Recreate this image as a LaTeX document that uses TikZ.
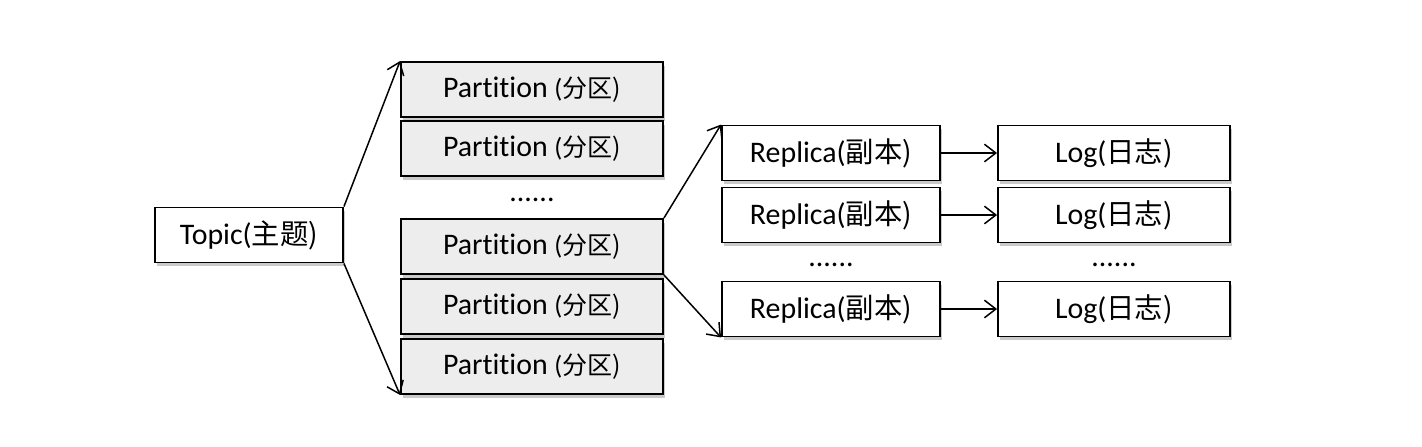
\documentclass[tikz,border=0pt]{standalone}
\usepackage{fontspec}
\setmainfont[Ligatures={NoCommon}]{Carlito}
\newfontfamily\cjk[Scale=0.95]{Noto Sans CJK SC}
\usetikzlibrary{arrows.meta,shadows}

\begin{document}
\begin{tikzpicture}[x=0.02cm,y=-0.02cm,
  box/.style={draw,line width=1.1pt,inner sep=0pt,minimum height=1.1cm,
    font=\fontsize{17}{20}\selectfont,
    drop shadow={shadow xshift=1.2pt,shadow yshift=-2pt,opacity=0.35,fill=black!60}},
  part/.style={box,fill=black!7,minimum width=5.24cm},
  link/.style={line width=0.85pt,-{Straight Barb[length=6.5pt,width=10pt]}},
  dots/.style={font=\fontsize{17}{20}\selectfont,inner sep=0pt}]
\useasboundingbox (0,0) rectangle (1422,446);
\node[box,fill=white,minimum width=3.76cm] (topic) at (249,235) {Topic(\cjk 主题)};
\node[part] (p1) at (532,89.5) {Partition {\fontsize{15}{18}\selectfont(\cjk 分区)}};
\node[part] (p2) at (532,148.5) {Partition {\fontsize{15}{18}\selectfont(\cjk 分区)}};
\node[dots] (pdots) at (532,200) {......};
\node[part] (p3) at (532,246.5) {Partition {\fontsize{15}{18}\selectfont(\cjk 分区)}};
\node[part] (p4) at (532,306.5) {Partition {\fontsize{15}{18}\selectfont(\cjk 分区)}};
\node[part] (p5) at (532,366.5) {Partition {\fontsize{15}{18}\selectfont(\cjk 分区)}};
\node[box,fill=white,minimum width=4.36cm] (r1) at (831,153) {Replica(\cjk 副本)};
\node[box,fill=white,minimum width=4.36cm] (r2) at (831,215) {Replica(\cjk 副本)};
\node[dots] (rdots) at (831,265) {......};
\node[box,fill=white,minimum width=4.36cm] (r3) at (831,309) {Replica(\cjk 副本)};
\node[box,fill=white,minimum width=4.64cm] (l1) at (1114,153) {Log(\cjk 日志)};
\node[box,fill=white,minimum width=4.64cm] (l2) at (1114,215) {Log(\cjk 日志)};
\node[dots] (ldots) at (1114,265) {......};
\node[box,fill=white,minimum width=4.64cm] (l3) at (1114,309) {Log(\cjk 日志)};
\draw[link] (topic.north east) -- (p1.north west);
\draw[link] (topic.south east) -- (p5.south west);
\draw[link] (p3.north east) -- (r1.north west);
\draw[link] (p3.south east) -- (r3.south west);
\draw[link] (r1.east) -- (l1.west);
\draw[link] (r2.east) -- (l2.west);
\draw[link] (r3.east) -- (l3.west);
\end{tikzpicture}
\end{document}
